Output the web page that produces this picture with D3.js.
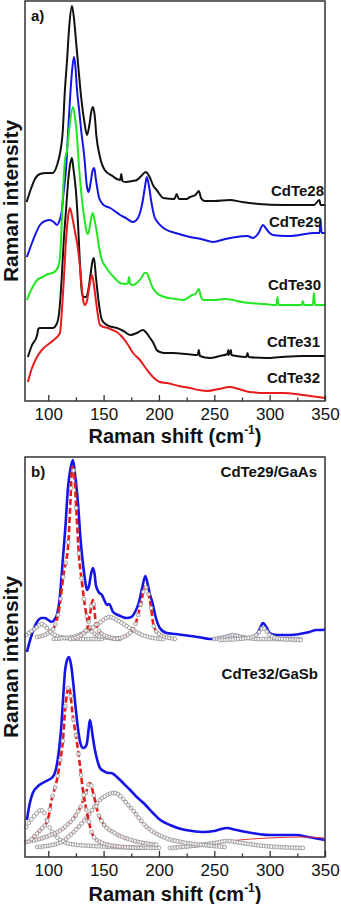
<!DOCTYPE html>
<html>
<head>
<meta charset="utf-8">
<script src="https://cdn.jsdelivr.net/npm/d3@7"></script>
<style>
  body { margin: 0; background: #fff; }
  svg { display: block; }
</style>
</head>
<body>
<svg id="chart" width="341" height="904"></svg>
<script>
// ---- data (x = Raman shift cm-1, y = intensity a.u.) ----
const ramanTicks = [100, 150, 200, 250, 300, 350];
const ramanMinor = [125, 175, 225, 275, 325];

// panel a spectra
const cdte28 = [[80.5,199],[84,211],[88,222],[92.5,227],[98,228],[104,228],[108,236],[111,250],[113,268],[115,310],[117,341],[119,375],[121.4,395],[123,385],[125,361],[127.5,330],[130,301],[132.5,280],[135,266],[137,275],[139,290],[140.3,294],[142,285],[143.5,265],[146.7,244],[151,231],[158,225],[162,222],[165,221],[166,227],[167,220],[170,219],[176,220],[180,221],[184,225],[188,229],[190,227],[192,223],[195,215],[198,211],[204,203],[214,202],[216,207],[218,202],[225,202],[228,204],[233,206],[236,210],[238,203],[241,200],[250,200],[264,201],[275,199],[290,197],[312,196],[340,196],[345,201],[346,196],[350,196]];
const cdte29 = [[80.7,144],[86,160],[92.5,176],[97,180],[101.5,181],[105,179],[108,176],[110,180],[112,188],[114,210],[116,231],[118,270],[119.6,301],[121.5,330],[123.2,344],[124.5,335],[126,311],[128,290],[130,268],[132.5,245],[135,214],[136.5,209],[138.5,220],[140,230],[141.5,233],[143,222],[146,203],[150,196],[156,193],[160,190],[165,186],[170,183],[176.6,179],[181,183],[185,198],[187.5,215],[189,224],[191,215],[193,200],[196,184],[198,180],[203,174],[207,171],[215,168],[228,164],[238,162],[249,159],[260,162],[270,164],[280,165],[285,163],[290,168],[294,176],[297,172],[300,168],[303,166],[315,165],[327,166],[340,168],[345,168],[346,178],[347,168],[350,168]];
const cdte30 = [[80.7,101],[85,112],[90,121],[95,124],[100,127],[104,128],[109,134],[111,150],[113,201],[115,240],[117,251],[119,272],[122.3,294],[124,285],[125.5,271],[128,231],[130.5,201],[133,180],[135,168],[136,167],[138,178],[140,188],[142,180],[144,168],[146,153],[148.5,141],[152,134],[155.8,128],[160,123],[164.8,118],[170,117],[172,118],[173,124],[174,117],[176.6,116],[180,118],[184,123],[187,128],[189,128],[191,123],[194,114],[198,108],[205,104],[215,102],[222,101],[226,103],[230,106],[233,107],[236,112],[238,104],[240,101],[250,101],[260,102],[267,101],[275,99],[282,98],[295,97],[306,96],[307,104],[308,96],[320,96],[329,96],[330,100],[331,96],[339,96],[340,108],[341,96],[350,96]];
const cdte31 = [[81.6,44],[85,55],[90,66],[91,72],[92.5,73],[98,73],[104,73],[108,78],[110,90],[112,120],[114,160],[116,190],[118,220],[120,238],[121.4,243],[123,230],[125,210],[127,175],[128.5,140],[130.5,108],[132,104],[134,104],[136,110],[138,125],[140,140],[141.3,143],[143,125],[145,104],[148.5,81],[153,76],[158,74],[162,73],[168,70],[174,66],[180,68],[185.6,71],[188,69],[192,63],[195,58],[198,51],[201,49],[205,48],[212.7,48],[225,47],[235,46],[236,51],[237,45],[246,43],[255,45],[262,47],[262.5,51],[263,46],[265,51],[265.5,46],[270,45],[279,44],[280,48],[281,44],[297,43],[310,44],[330,45],[350,45]];
const cdte32 = [[81.6,19],[85,32],[89.8,44],[95,52],[101.5,58],[106,62],[110.6,68],[112,85],[114,120],[116,160],[118,185],[119.6,193],[121.5,185],[124,170],[127,151],[129,130],[131.5,101],[133,96],[135,100],[137,114],[139.5,126],[141,118],[143,101],[146.7,76],[150,74],[154,73],[158,71],[162,69],[166,65],[171,58],[176.6,48],[182.8,41],[188,33],[194.6,24],[200.8,19],[207,18],[218,15],[228,13],[236,11],[244,10],[254,12],[264,14],[272,12],[282,9],[297,8],[312,8],[330,6],[350,3]];

// panel b measured spectra
const gaasSpectrum = [[80.7,205],[85,222],[89.8,235],[94,239],[97,239],[100,237],[103,235],[106,238],[108,243],[110,255],[113,295],[115.5,330],[117.8,369],[120,388],[122.3,397],[124.5,380],[127,352],[129,320],[131.5,292],[133.5,275],[135,267],[137,272],[138.5,282],[140.3,289],[142,282],[143,272],[145.5,265],[148.5,262],[151,256],[153,252],[155,253],[158.5,245],[163,242],[171,239],[175,240],[178.4,245],[182,255],[185,270],[187.7,281],[190,272],[192,262],[194,255],[197,240],[200.8,229],[207,224],[215,223],[221.8,222],[235,220],[246,218],[258,220],[267,222],[275,220],[282,219],[288,222],[291,228],[294,234],[297,230],[300,224],[306,222],[318,222],[327,223],[336,225],[342,227],[348,227],[350,228]];
const gasbSpectrum = [[80.7,37],[83,52],[86,64],[90,70],[95,74],[100,77],[104,80],[106.5,86],[108.5,97],[110.5,115],[112,134],[113.5,160],[115,184],[117,197],[118.7,200],[120.5,193],[122.3,177],[124.5,152],[127,127],[129,114],[131.3,109],[133.5,110],[135,114],[136.5,128],[137.6,137],[139,130],[140.5,118],[142.2,107],[144.5,96],[146.7,89],[150,86],[154,84],[157,84],[160,82],[164,78],[167.6,74],[174,67],[180,60],[187,53],[194.6,44],[200,38],[210,32],[220,28],[230,26],[240,25],[250,26],[261,29],[270,27],[279,25],[290,23],[300,22],[312,22],[324,22],[335,20],[350,17]];

// panel b fitted components, CdTe29/GaAs
const gaasFit97 = [[80,222],[85,226],[90,230],[94,233],[98,230],[102,225],[108,221],[115,219],[130,218],[150,218]];
const gaasFit122 = [[90,220],[100,224],[105,229],[110,249],[114,284],[118,312],[120,354],[121.6,390],[123.2,385],[125.5,344],[127.7,302],[130.4,275],[134,245],[137,230],[142,223],[150,220],[165,218]];
const gaasFit140 = [[120,218],[130,222],[135,228],[137.6,242],[140.3,257],[143,235],[146,226],[152,221],[165,218]];
const gaasFit155 = [[105,218],[115,219],[125,221],[135,226],[145,233],[155,240],[165,235],[175,228],[185,222],[195,219],[205,218]];
const gaasFit188 = [[160,218],[170,221],[178.4,232],[183,250],[187.7,270],[192.8,250],[195,232],[200,223],[215,218]];
const gaasFit268 = [[250,218],[260,220],[267,222],[275,220],[290,218],[330,218]];
const gaasFit294 = [[255,217],[280,219],[288,222],[294,229],[300,222],[310,218],[330,217]];

// panel b fitted components, CdTe32/GaSb
const gasbFit95 = [[80,30],[85,38],[90,44],[93,47],[97,43],[101,30],[106,22],[111,17],[120,13],[140,11],[160,10],[200,9]];
const gasbFit120 = [[85,18],[92,26],[99.5,37],[103,57],[107.8,77],[110.6,95],[113.3,117],[115,144],[118.7,170],[122.3,140],[126,114],[128.6,92],[131.3,67],[135,44],[139.5,24],[145,16],[160,11],[185,9]];
const gasbFit139 = [[80,15],[100,21],[115,30],[125,42],[130,52],[134,64],[137.6,74],[141,62],[145,44],[150,33],[160,24],[175,17],[200,12]];
const gasbFit160 = [[90,10],[110,14],[122,24],[135,40],[146.7,57],[160,64],[173.8,50],[189,30],[203.7,20],[220,15],[240,12],[260,10]];
const gasbFit265 = [[210,9],[230,11],[250,14],[262,16],[275,14],[295,11],[332,9]];
const gasbFitSum = [[212,9],[240,11],[265,16],[300,19],[330,20],[350,19]];

// ---- drawing ----
const svg = d3.select("#chart");
const FONT = "'Liberation Sans', Arial, sans-serif";

const x = d3.scaleLinear().domain([79, 350]).range([25, 325]);

const panels = [
  { tag: "a)", top: 1, bottom: 401, pad: 7, title: 42,
    spectra: [
      { data: cdte28, color: "#111111", label: "CdTe28", lx: 324, ly: 191 },
      { data: cdte29, color: "#1414e6", label: "CdTe29", lx: 322, ly: 222 },
      { data: cdte30, color: "#22e622", label: "CdTe30", lx: 321, ly: 285 },
      { data: cdte31, color: "#111111", label: "CdTe31", lx: 320, ly: 342 },
      { data: cdte32, color: "#e61c1c", label: "CdTe32", lx: 320, ly: 378 }
    ], fits: [], notes: [] },
  { tag: "b)", top: 457, bottom: 857, pad: 7, title: 43.5,
    spectra: [
      { data: gaasSpectrum, color: "#1414e6" },
      { data: gasbSpectrum, color: "#1414e6" }
    ],
    fits: [
      { data: gaasFit97, red: false }, { data: gaasFit155, red: false },
      { data: gaasFit268, red: false }, { data: gaasFit294, red: false },
      { data: gaasFit122, red: true }, { data: gaasFit140, red: true }, { data: gaasFit188, red: true },
      { data: gasbFit95, red: false }, { data: gasbFit265, red: false },
      { data: gasbFit160, red: true, thin: true }, { data: gasbFit139, red: true }, { data: gasbFit120, red: true }
    ],
    notes: [
      { text: "CdTe29/GaAs", lx: 317, ly: 472 },
      { text: "CdTe32/GaSb", lx: 318, ly: 674 }
    ] }
];

// place open markers at an even x step along a drawn path (like the plotted points)
function markersAlong(node, step) {
  const L = node.getTotalLength();
  const pts = [];
  let nextX = null;
  for (let l = 0; l <= L; l += 0.4) {
    const p = node.getPointAtLength(l);
    if (nextX === null || p.x >= nextX) {
      pts.push([p.x, p.y]);
      nextX = (nextX === null ? p.x : nextX) + step;
    }
  }
  return pts;
}

panels.forEach(p => {
  const y = d3.scaleLinear().domain([0, 400]).range([p.bottom, p.top]);
  const line = d3.line().x(d => x(d[0])).y(d => y(d[1])).curve(d3.curveMonotoneX);
  const g = svg.append("g");

  // measured spectra
  p.spectra.forEach(s => {
    g.append("path")
      .attr("d", line(s.data))
      .attr("fill", "none")
      .attr("stroke", s.color)
      .attr("stroke-width", p.tag === "b)" ? 2.6 : 2)
      .attr("stroke-linejoin", "round");
    if (s.label) {
      g.append("text")
        .attr("x", s.lx).attr("y", s.ly)
        .attr("dy", "0.36em")
        .attr("text-anchor", "end")
        .attr("font-family", FONT).attr("font-weight", "bold").attr("font-size", 15)
        .attr("fill", "#111")
        .text(s.label);
    }
  });

  // thin red sum line in the GaSb fit
  if (p.tag === "b)") {
    g.append("path")
      .attr("d", line(gasbFitSum))
      .attr("fill", "none").attr("stroke", "#e63030").attr("stroke-width", 1);
  }

  // fitted components: grey open circles, main modes with red dashes
  p.fits.forEach(f => {
    const path = g.append("path")
      .attr("d", line(f.data))
      .attr("fill", "none")
      .attr("stroke", f.red ? "#e61c1c" : "none")
      .attr("stroke-width", f.thin ? 1.4 : 2.6)
      .attr("stroke-dasharray", "6,3");
    const pts = markersAlong(path.node(), 2.6);
    g.append("g").selectAll("circle")
      .data(pts)
      .join("circle")
      .attr("cx", d => d[0]).attr("cy", d => d[1])
      .attr("r", 1.9)
      .attr("fill", "#fff")
      .attr("fill-opacity", 0.85)
      .attr("stroke", "#8c8c8c")
      .attr("stroke-width", 0.8);
  });

  p.notes.forEach(n => {
    g.append("text")
      .attr("x", n.lx).attr("y", n.ly)
      .attr("dy", "0.36em")
      .attr("text-anchor", "end")
      .attr("font-family", FONT).attr("font-weight", "bold").attr("font-size", 15)
      .attr("fill", "#111")
      .text(n.text);
  });

  // frame
  g.append("rect")
    .attr("x", 25).attr("y", p.top)
    .attr("width", 300).attr("height", p.bottom - p.top)
    .attr("fill", "none").attr("stroke", "#333").attr("stroke-width", 1.5);

  // panel tag
  g.append("text")
    .attr("x", 31).attr("y", p.top + 15)
    .attr("dy", "0.36em")
    .attr("font-family", FONT).attr("font-weight", "bold").attr("font-size", 15)
    .attr("fill", "#111")
    .text(p.tag);

  // x axis: major + minor ticks pointing inward
  const ax = g.append("g")
    .attr("transform", `translate(0,${p.bottom})`)
    .call(d3.axisBottom(x).tickValues(ramanTicks).tickSizeInner(-6).tickSizeOuter(0).tickPadding(p.pad));
  ax.select(".domain").remove();
  ax.selectAll("line").attr("stroke", "#333").attr("stroke-width", 1.3);
  ax.selectAll("text").attr("font-family", FONT).attr("font-size", 17).attr("fill", "#111");

  const axm = g.append("g")
    .attr("transform", `translate(0,${p.bottom})`)
    .call(d3.axisBottom(x).tickValues(ramanMinor).tickSize(-3.5).tickFormat(""));
  axm.select(".domain").remove();
  axm.selectAll("line").attr("stroke", "#333").attr("stroke-width", 1.3);

  // x title
  const xt = g.append("text")
    .attr("x", 175).attr("y", p.bottom + p.title)
    .attr("text-anchor", "middle")
    .attr("font-family", FONT).attr("font-weight", "bold").attr("font-size", 20)
    .attr("fill", "#111");
  xt.append("tspan").text("Raman shift (cm");
  xt.append("tspan").attr("font-size", 12).attr("dy", -9).text("-1");
  xt.append("tspan").attr("dy", 9).text(")");

  // y title
  g.append("text")
    .attr("transform", `translate(18,${(p.top + p.bottom) / 2}) rotate(-90)`)
    .attr("text-anchor", "middle")
    .attr("font-family", FONT).attr("font-weight", "bold").attr("font-size", 21)
    .attr("fill", "#111")
    .text("Raman intensity");
});
</script>
</body>
</html>
